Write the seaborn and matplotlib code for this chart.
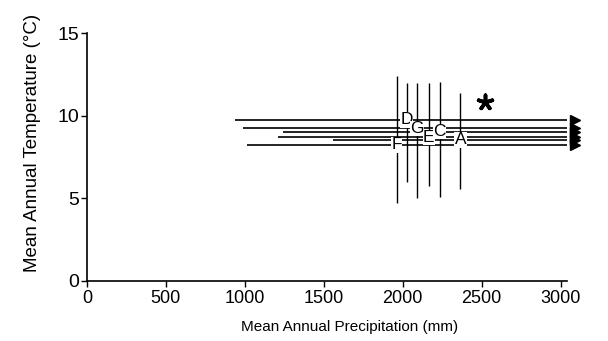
import matplotlib
matplotlib.use("Agg")
import matplotlib.pyplot as plt
import seaborn as sns

# Site data
sites = ['D', 'G', 'E', 'C', 'A', 'F']
precip_mean = [2025, 2090, 2165, 2235, 2365, 1962]
precip_min = [937, 990, 1210, 1240, 1557, 1013]
precip_max = [3060, 3060, 3060, 3060, 3060, 3060]   # ranges run past 3000 -> arrow
temp_mean = [9.76, 9.23, 8.69, 9.04, 8.54, 8.23]
temp_min = [6.0, 5.05, 5.75, 5.1, 5.55, 4.7]
temp_max = [12.0, 12.0, 12.0, 12.05, 11.35, 12.4]

star_precip = [2523]
star_temp = [10.8]

x_ticks = [0, 500, 1000, 1500, 2000, 2500, 3000]
y_ticks = [0, 5, 10, 15]

sns.set_style("ticks")
plt.rcParams['font.family'] = ['Liberation Sans', 'DejaVu Sans']
plt.rcParams.update({'text.color': 'black', 'axes.labelcolor': 'black',
                     'xtick.color': 'black', 'ytick.color': 'black'})

fig = plt.figure(figsize=(6.08, 3.41), dpi=100)
ax = fig.add_axes([0.143, 0.176, 0.7895, 0.727])

# precipitation ranges (horizontal) with arrowheads
ax.hlines(temp_mean, precip_min, precip_max, color='black', linewidth=1.2, zorder=2)
ax.plot([p + 34 for p in precip_max], temp_mean, linestyle='none', marker='>',
        markersize=7, color='black', clip_on=False, zorder=2)

# temperature ranges (vertical)
ax.vlines(precip_mean, temp_min, temp_max, color='black', linewidth=1.0, zorder=2)

# site labels at the means
for s, px, ty in zip(sites, precip_mean, temp_mean):
    ax.text(px, ty, s, ha='center', va='center', fontsize=12.5, zorder=3,
            bbox=dict(facecolor='white', edgecolor='none', pad=0.3))

# asterisk site
sns.scatterplot(x=star_precip, y=star_temp, marker=(5, 2, 0), s=110,
                color='black', linewidth=2.6, edgecolor='black', ax=ax, zorder=3)

ax.set_xlim(0, 3040)
ax.set_ylim(0, 15)
ax.set_xticks(x_ticks)
ax.set_yticks(y_ticks)
ax.tick_params(axis='both', length=4, width=1)
ax.tick_params(axis='x', labelsize=13, pad=2.5)
ax.tick_params(axis='y', labelsize=14, pad=1.5)
for sp in ['left', 'bottom']:
    ax.spines[sp].set_color('black')
    ax.spines[sp].set_linewidth(1.2)
sns.despine(ax=ax)

ax.set_xlabel('Mean Annual Precipitation (mm)', fontsize=11, labelpad=9)
ax.set_ylabel('Mean Annual Temperature (°C)', fontsize=13.5, labelpad=12)
ax.xaxis.label.set_x(0.548)
ax.yaxis.label.set_y(0.556)

fig.savefig('out.png', dpi=100)
